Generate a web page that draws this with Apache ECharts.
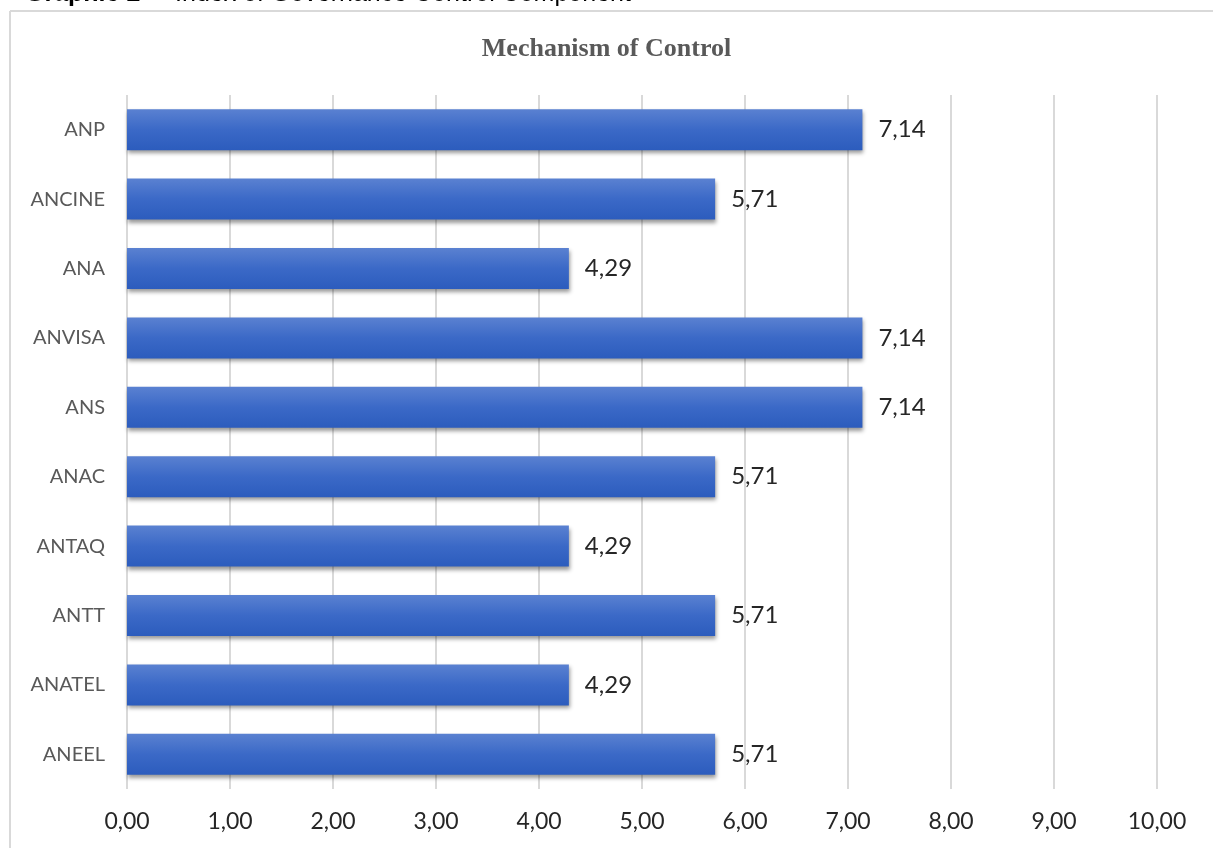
<!DOCTYPE html>
<html>
<head>
<meta charset="utf-8">
<script src="https://cdn.jsdelivr.net/npm/echarts@6/dist/echarts.min.js"></script>
<style>
html,body{margin:0;padding:0;background:#fff;}
#chart{width:1213px;height:848px;}
</style>
</head>
<body>
<div id="chart"></div>
<script>
const categories = ['ANP','ANCINE','ANA','ANVISA','ANS','ANAC','ANTAQ','ANTT','ANATEL','ANEEL'];
const values = [7.14, 5.71, 4.29, 7.14, 7.14, 5.71, 4.29, 5.71, 4.29, 5.71];
const xTicks = [0,1,2,3,4,5,6,7,8,9,10];
const titleText = 'Mechanism of Control';
const captionBold = 'Graphic 2';
const captionRest = ' \u2013  Index of Governance Control Component';

const fmt = v => Number(v).toFixed(2).replace('.', ',');

const chart = echarts.init(document.getElementById('chart'), null, {renderer:'canvas'});
chart.setOption({
  backgroundColor:'#fff',
  animation:false,
  title:{
    text:titleText,
    left:'center',
    top:31,
    textStyle:{fontFamily:'Liberation Serif',fontWeight:'bold',fontSize:26,color:'#595959'}
  },
  graphic:[
    {type:'line',shape:{x1:10,y1:11,x2:1213,y2:11},style:{stroke:'#d9d9d9',lineWidth:2},silent:true},
    {type:'line',shape:{x1:10,y1:11,x2:10,y2:848},style:{stroke:'#d9d9d9',lineWidth:2},silent:true},
    {type:'text',left:25,top:-18,style:{
      text:'{b|'+captionBold+'}{r|'+captionRest+'}',
      rich:{
        b:{fontFamily:'Liberation Sans',fontWeight:'bold',fontSize:25,fill:'#000'},
        r:{fontFamily:'Liberation Sans',fontSize:25,fill:'#000'}
      }
    }}
  ],
  grid:{left:127,right:56,top:95,bottom:59,containLabel:false},
  xAxis:{
    type:'value',min:0,max:10,interval:1,
    axisLine:{show:false},axisTick:{show:false},
    splitLine:{show:true,lineStyle:{color:'#d9d9d9',width:2}},
    axisLabel:{formatter:v=>xTicks.includes(v)?fmt(v):'',fontFamily:'Lato',fontSize:23,color:'#262626',margin:21}
  },
  yAxis:{
    type:'category',data:categories,inverse:true,
    axisLine:{show:false},axisTick:{show:false},
    axisLabel:{fontFamily:'Lato',fontSize:20,color:'#595959',margin:22}
  },
  series:[{
    type:'bar',data:values,barWidth:41,
    itemStyle:{
      color:new echarts.graphic.LinearGradient(0,0,0,1,[
        {offset:0,color:'#5a81d1'},
        {offset:0.5,color:'#3b69c7'},
        {offset:1,color:'#2c5cbd'}
      ]),
      shadowColor:'rgba(0,0,0,0.4)',shadowBlur:4,shadowOffsetY:3,shadowOffsetX:1
    },
    label:{show:true,position:'right',distance:16,formatter:p=>fmt(p.value),
      fontFamily:'Lato',fontSize:24,color:'#262626'}
  }]
});
</script>
</body>
</html>
